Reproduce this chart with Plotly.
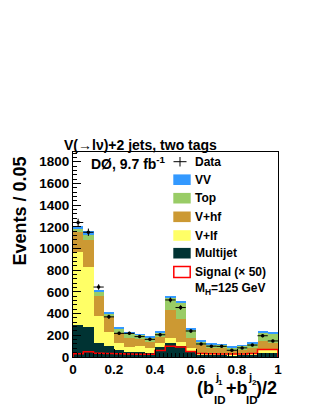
import numpy as np
import plotly.graph_objects as go

# ---- data ----
bin_edges = [round(0.05 * i, 2) for i in range(21)]
bin_centers = [round(0.025 + 0.05 * i, 3) for i in range(20)]

multijet = [295, 275, 130, 105, 65, 49, 49, 40, 89, 126, 105, 58, 25, 22, 20, 18, 20, 25, 40, 40]
v_lf     = [675, 555, 248, 130, 61, 46, 51, 40, 37, 46, 37, 22, 15, 13, 10, 10, 10, 13, 20, 20]
v_hf     = [185, 245, 182, 135, 98, 77, 63, 62, 62, 262, 208, 92, 70, 50, 50, 27, 32, 42, 90, 65]
top      = [27, 50, 40, 35, 41, 46, 42, 38, 37, 117, 152, 83, 35, 33, 32, 37, 40, 45, 75, 90]
vv       = [23, 35, 15, 7, 15, 14, 7, 6, 15, 12, 18, 7, 5, 4, 4, 3, 4, 5, 13, 7]
data     = [1240, 1150, 645, 370, 218, 218, 188, 163, 205, 526, 456, 240, 120, 100, 98, 62, 84, 110, 196, 148]
signal50 = [30, 48, 35, 32, 30, 28, 25, 25, 60, 100, 92, 50, 32, 30, 28, 28, 28, 32, 68, 68]

y_ticks = [0, 200, 400, 600, 800, 1000, 1200, 1400, 1600, 1800]
x_ticks = [0, 0.2, 0.4, 0.6, 0.8, 1.0]
x_ticktext = ["0", "0.2", "0.4", "0.6", "0.8", "1"]

components = [
    ("Multijet", multijet, "#003333"),
    ("V+lf", v_lf, "#ffff66"),
    ("V+hf", v_hf, "#cc9933"),
    ("Top", top, "#99cc66"),
    ("VV", vv, "#3399ff"),
]

W, H = 316, 409
L, R, T, B = 73, 278, 152, 357  # frame in pixels
FONT = "Liberation Sans"


def px(x):
    return (x - L) / (R - L)


def py(y):
    return (B - y) / (B - T)


fig = go.Figure()
for name, vals, col in components:
    fig.add_trace(go.Bar(x=bin_centers, y=vals, width=0.05, name=name,
                         marker=dict(color=col, line=dict(width=0)),
                         showlegend=False))

# signal x50 step line
sx = [bin_edges[0]] + bin_edges
sy = [0] + signal50 + [signal50[-1]]
fig.add_trace(go.Scatter(x=sx, y=sy, mode="lines", line_shape="hv",
                         line=dict(color="#ff0000", width=1.5), showlegend=False))
fig.add_trace(go.Scatter(x=[bin_edges[-1], bin_edges[-1]], y=[signal50[-1], 0], mode="lines",
                         line=dict(color="#ff0000", width=1.5), showlegend=False))

# data
fig.add_trace(go.Scatter(x=bin_centers, y=data, mode="markers",
                         marker=dict(color="black", size=3.5),
                         error_y=dict(type="data", array=list(np.sqrt(data)), width=0,
                                      thickness=1, color="black"),
                         error_x=dict(type="constant", value=0.025, width=0,
                                      thickness=1, color="black"),
                         showlegend=False))

shapes = []
ann = []

# legend (ROOT style)
lx0, lx1 = 173.3, 190.7
txt_x = 193.3
entries = [("VV", "#3399ff", 179.7), ("Top", "#99cc66", 198.2), ("V+hf", "#cc9933", 216.8),
           ("V+lf", "#ffff66", 235.5), ("Multijet", "#003333", 253.2)]
for name, col, yc in entries:
    shapes.append(dict(type="rect", xref="paper", yref="paper",
                       x0=px(lx0), x1=px(lx1), y0=py(yc + 5.3), y1=py(yc - 5.3),
                       fillcolor=col, line=dict(width=0)))
    ann.append(dict(text=name, x=px(txt_x), y=py(yc), xanchor="left", yanchor="middle"))
# signal box
shapes.append(dict(type="rect", xref="paper", yref="paper",
                   x0=px(lx0 + 0.5), x1=px(lx1 - 0.5), y0=py(277.5), y1=py(266.5),
                   fillcolor="white", line=dict(width=1.5, color="#ff0000")))
ann.append(dict(text="Signal (\u00d7 50)", x=px(txt_x), y=py(272), xanchor="left", yanchor="middle"))
# data entry
shapes.append(dict(type="line", xref="paper", yref="paper", x0=px(173.5), x1=px(186.5),
                   y0=py(161.7), y1=py(161.7), line=dict(color="black", width=1)))
shapes.append(dict(type="line", xref="paper", yref="paper", x0=px(180), x1=px(180),
                   y0=py(157), y1=py(166.5), line=dict(color="black", width=1)))
ann.append(dict(text="Data", x=px(txt_x), y=py(161.7), xanchor="left", yanchor="middle"))
ann.append(dict(text="M<sub>H</sub>=125 GeV", x=px(txt_x), y=py(289), xanchor="left", yanchor="middle"))

for a in ann:
    a.update(xref="paper", yref="paper", showarrow=False,
             font=dict(family=FONT, size=12, color="black", weight="bold"))

big = dict(family=FONT, size=18, color="black", weight="bold")
small = dict(family=FONT, size=11.5, color="black", weight="bold")
tiny = dict(family=FONT, size=8, color="black", weight="bold")
ann2 = [
    dict(text="V(\u2192l\u03bd)+2 jets, two tags", x=px(140), y=py(145), xanchor="center", yanchor="middle",
         font=dict(family=FONT, size=14, color="black", weight="bold")),
    dict(text="D\u00d8, 9.7 fb<sup>-1</sup>", x=px(89.3), y=py(162.5), xanchor="left", yanchor="middle",
         font=dict(family=FONT, size=14, color="black", weight="bold")),
    dict(text="Events / 0.05", x=px(19), y=py(211.5), xanchor="center", yanchor="middle",
         textangle=-90, font=big),
    # x-axis title pieces
    dict(text="(b", x=px(195), y=py(388), xanchor="left", yanchor="middle", font=big),
    dict(text="ID", x=px(211.5), y=py(400), xanchor="left", yanchor="middle", font=small),
    dict(text="j", x=px(212.5), y=py(377), xanchor="left", yanchor="middle", font=small),
    dict(text="1", x=px(216), y=py(382), xanchor="left", yanchor="middle", font=tiny),
    dict(text="+b", x=px(224), y=py(388), xanchor="left", yanchor="middle", font=big),
    dict(text="ID", x=px(244), y=py(400), xanchor="left", yanchor="middle", font=small),
    dict(text="j", x=px(246), y=py(377), xanchor="left", yanchor="middle", font=small),
    dict(text="2", x=px(249.5), y=py(382), xanchor="left", yanchor="middle", font=tiny),
    dict(text=")/2", x=px(279), y=py(388), xanchor="right", yanchor="middle", font=big),
]
for a in ann2:
    a.update(xref="paper", yref="paper", showarrow=False)

tickfont = dict(family=FONT, size=13.5, color="black", weight="bold")
fig.update_layout(
    width=W, height=H, autosize=False,
    margin=dict(l=L, r=W - R, t=T, b=H - B, pad=0),
    paper_bgcolor="white", plot_bgcolor="white",
    barmode="stack", bargap=0,
    shapes=shapes, annotations=ann + ann2,
    showlegend=False,
    xaxis=dict(range=[0, 1], tickvals=x_ticks, ticktext=x_ticktext, ticks="inside", ticklen=8,
               tickwidth=1, tickcolor="black", showline=True, linecolor="black", linewidth=1,
               mirror=True, showgrid=False, zeroline=False, tickfont=tickfont,
               minor=dict(dtick=0.02, ticks="inside", ticklen=4, tickcolor="black", tickwidth=1)),
    yaxis=dict(range=[0, 1890], tickvals=y_ticks, ticks="inside", ticklen=8,
               tickwidth=1, tickcolor="black", showline=True, linecolor="black", linewidth=1,
               mirror=True, showgrid=False, zeroline=False, tickfont=tickfont,
               minor=dict(dtick=40, ticks="inside", ticklen=4, tickcolor="black", tickwidth=1)),
)

fig.write_html("out.html", config={"displayModeBar": False},
               post_script="document.body.style.margin='0';")
